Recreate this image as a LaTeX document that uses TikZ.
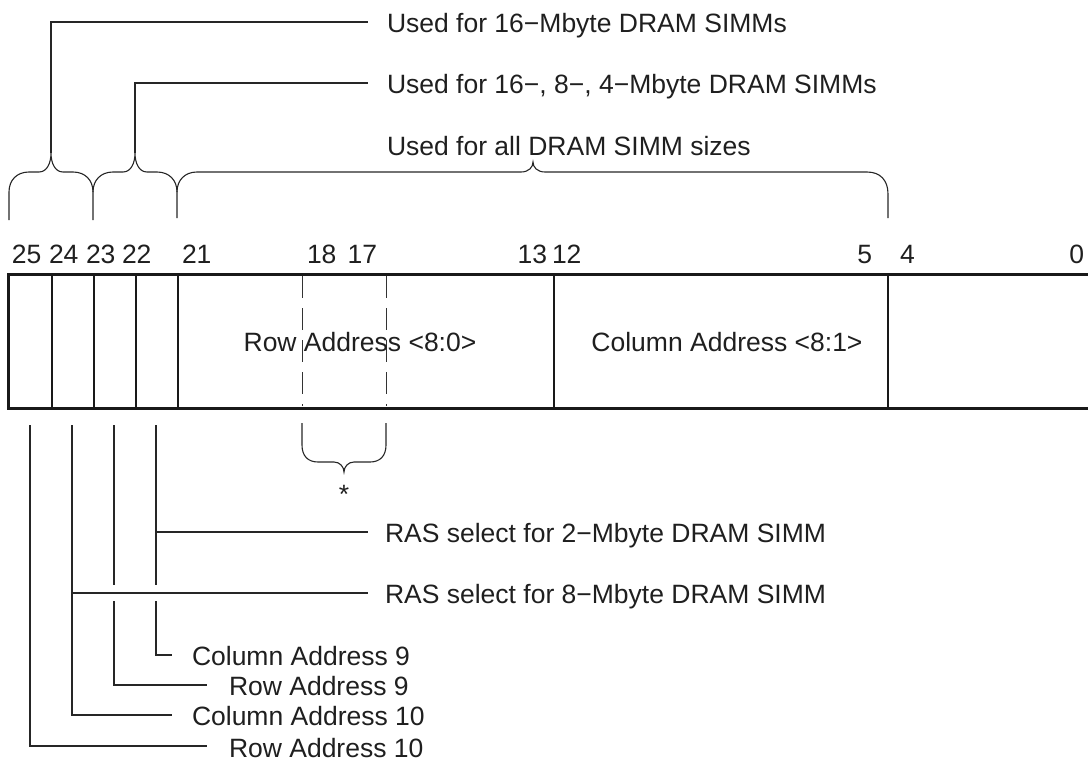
\documentclass[tikz,border=0pt]{standalone}
\usepackage{fontspec}
\setmainfont{Liberation Sans}
\begin{document}
\begin{tikzpicture}[x=1pt,y=-1pt,
  lbl/.style={inner sep=0pt, outer sep=0pt, font=\fontsize{26.5}{30}\selectfont, text=black!88},
  thinln/.style={line width=1.1pt, draw=black!85},
  divln/.style={line width=1.8pt, draw=black!90},
  boxln/.style={line width=3pt, draw=black!90},
  dashln/.style={line width=1pt, draw=black!80, dash pattern=on 22pt off 10pt}]
\useasboundingbox (0,0) rectangle (1088,761);

% ---------- register box ----------
\draw[boxln] (1100,274) -- (8,274) -- (8,408) -- (1100,408);
\foreach \x in {52,94,136,178,554,888} \draw[divln] (\x,274) -- (\x,408);
\draw[dashln] (302,276) -- (302,406);
\draw[dashln] (386,276) -- (386,406);

% ---------- bit numbers ----------
\node[lbl, anchor=base west] (b25) at (12,263) {25};
\node[lbl, anchor=base west] (b24) at (49,263) {24};
\node[lbl, anchor=base west] (b23) at (86,263) {23};
\node[lbl, anchor=base west] (b22) at (122,263) {22};
\node[lbl, anchor=base west] (b21) at (182,263) {21};
\node[lbl, anchor=base west] (b18) at (307,263) {18};
\node[lbl, anchor=base east] (b17) at (377,263) {17};
\node[lbl, anchor=base east] (b13) at (547,263) {13};
\node[lbl, anchor=base west] (b12) at (552,263) {12};
\node[lbl, anchor=base east] (b5) at (872,263) {5};
\node[lbl, anchor=base west] (b4) at (900,263) {4};
\node[lbl, anchor=base east] (b0) at (1084,263) {0};

% ---------- field texts ----------
\node[lbl, anchor=base] (rowf) at (360,351) {Row Address <8:0>};
\node[lbl, anchor=base] (colf) at (727,351) {Column Address <8:1>};

% ---------- top labels ----------
\node[lbl, anchor=base west] (u16) at (387,32) {Used for 16−Mbyte DRAM SIMMs};
\node[lbl, anchor=base west] (u1684) at (387,93) {Used for 16−, 8−, 4−Mbyte DRAM SIMMs};
\node[lbl, anchor=base west] (uall) at (387,155) {Used for all DRAM SIMM sizes};

% ---------- top braces ----------
\coordinate (tipA) at (51,153);
\coordinate (tipB) at (135,153);
\coordinate (tipC) at (533,162);
% brace A (bits 25-24)
\draw[thinln] (9,220) -- (9,192) .. controls (9,180) and (17,172) .. (29,172) -- (39,172)
  .. controls (47,172) and (51,163) .. (tipA)
  .. controls (51,163) and (55,172) .. (63,172) -- (73,172)
  .. controls (85,172) and (93,180) .. (93,192) -- (93,220);
% brace B (bits 23-22)
\draw[thinln] (93,192) .. controls (93,180) and (101,172) .. (113,172) -- (123,172)
  .. controls (131,172) and (135,163) .. (tipB)
  .. controls (135,163) and (139,172) .. (147,172) -- (157,172)
  .. controls (169,172) and (177,180) .. (177,192) -- (177,218);
% brace C (bits 21-5)
\draw[thinln] (177,192) .. controls (177,180) and (185,172) .. (197,172) -- (521,172)
  .. controls (529,172) and (533,167) .. (tipC)
  .. controls (533,167) and (537,172) .. (545,172) -- (867,172)
  .. controls (880,172) and (888,180) .. (888,194) -- (888,218);
% leaders
\draw[thinln] (tipA) |- ([xshift=-19pt,yshift=10pt]u16.base west);
\draw[thinln] (tipB) |- ([xshift=-19pt,yshift=10pt]u1684.base west);

% ---------- lower brace and star ----------
\coordinate (tipS) at (344,472);
\draw[thinln] (302,423) -- (302,445) .. controls (302,456) and (308,462) .. (318,462) -- (334,462)
  .. controls (340,462) and (344,467) .. (tipS)
  .. controls (344,467) and (348,462) .. (354,462) -- (370,462)
  .. controls (380,462) and (386,456) .. (386,445) -- (386,423);
\node[lbl, anchor=base] (star) at (344,503) {*};

% ---------- lower labels ----------
\node[lbl, anchor=base west] (ras2) at (385,542) {RAS select for 2−Mbyte DRAM SIMM};
\node[lbl, anchor=base west] (ras8) at (385,603) {RAS select for 8−Mbyte DRAM SIMM};
\node[lbl, anchor=base west] (ca9) at (192,665) {Column Address 9};
\node[lbl, anchor=base west] (ra9) at (229,695) {Row Address 9};
\node[lbl, anchor=base west] (ca10) at (192,725) {Column Address 10};
\node[lbl, anchor=base west] (ra10) at (229,757) {Row Address 10};

% ---------- lower leaders ----------
\coordinate (s25) at (30,425);
\coordinate (s24) at (72,425);
\coordinate (s23) at (114,425);
\coordinate (s22) at (156,425);
\draw[thinln] (s22) -- (156,585);
\draw[thinln] (156,532) -- ([xshift=-17pt,yshift=10pt]ras2.base west);
\draw[thinln] (156,601) |- ([xshift=-20pt,yshift=10pt]ca9.base west);
\draw[thinln] (s23) -- (114,585);
\draw[thinln] (114,601) |- ([xshift=-22pt,yshift=10pt]ra9.base west);
\draw[thinln] (s24) |- ([xshift=-20pt,yshift=10pt]ca10.base west);
\draw[thinln] (72,593) -- ([xshift=-17pt,yshift=10pt]ras8.base west);
\draw[thinln] (s25) |- ([xshift=-22pt,yshift=11pt]ra10.base west);
\end{tikzpicture}
\end{document}
